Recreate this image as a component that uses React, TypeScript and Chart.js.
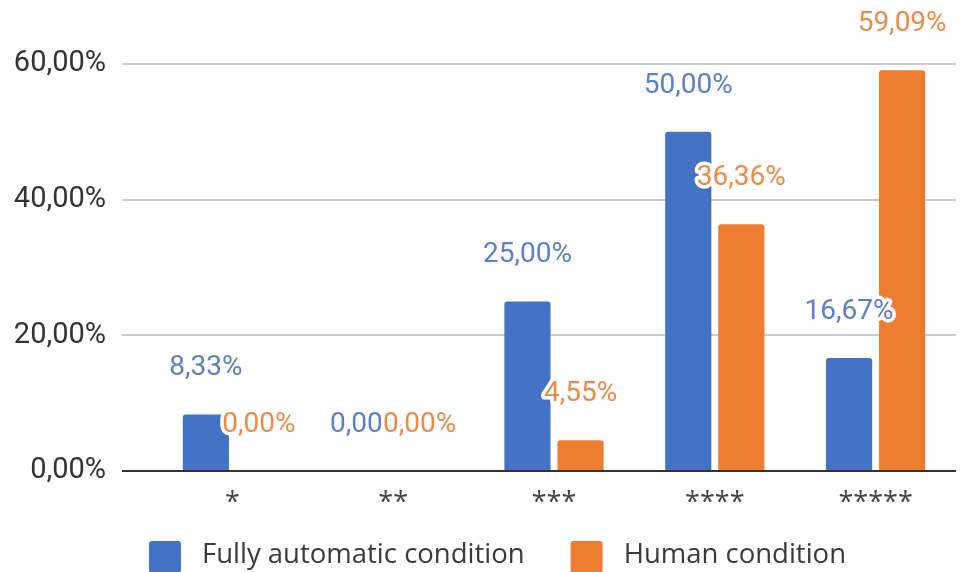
import React, { useEffect, useRef } from "react";
import { Chart, registerables } from "chart.js";

Chart.register(...registerables);

const categories = ["*", "**", "***", "****", "*****"];
const fullyAutomatic = [8.33, 0.0, 25.0, 50.0, 16.67];
const human = [0.0, 0.0, 4.55, 36.36, 59.09];
const seriesNames = ["Fully automatic condition", "Human condition"];
const yTicks = [0, 20, 40, 60];

const BLUE = "#4472C4";
const ORANGE = "#ED7D31";
const BLUE_LABEL = "#5a80cc";
const ORANGE_LABEL = "#ee8a45";

const fmt = (v: number) => v.toFixed(2).replace(".", ",") + "%";

const labelPlugin = {
  id: "valueLabels",
  afterDatasetsDraw(chart: any) {
    const ctx = chart.ctx;
    ctx.save();
    ctx.font = "28px Roboto";
    ctx.textAlign = "center";
    ctx.textBaseline = "middle";
    ctx.lineJoin = "round";
    chart.data.datasets.forEach((ds: any, di: number) => {
      const meta = chart.getDatasetMeta(di);
      meta.data.forEach((el: any, i: number) => {
        const txt = fmt(ds.data[i]);
        const y = el.y - 46;
        ctx.strokeStyle = "#ffffff";
        ctx.lineWidth = 7;
        ctx.strokeText(txt, el.x, y);
        ctx.fillStyle = di === 0 ? BLUE_LABEL : ORANGE_LABEL;
        ctx.fillText(txt, el.x, y);
      });
    });
    ctx.restore();
  },
};

// Bottom legend: boxes + series names, centred under the chart
const legendPlugin = {
  id: "bottomLegend",
  afterDraw(chart: any) {
    const ctx = chart.ctx;
    const box = 32;
    const gap = 21;
    const itemGap = 46;
    ctx.save();
    ctx.font = "27.5px 'Open Sans'";
    ctx.textBaseline = "middle";
    ctx.textAlign = "left";
    const items = chart.data.datasets.map((ds: any) => ({
      text: ds.label,
      color: ds.backgroundColor,
      w: box + gap + ctx.measureText(ds.label).width,
    }));
    const total = items.reduce((a: number, it: any) => a + it.w, 0) + itemGap * (items.length - 1);
    let x = chart.width / 2 + 12 - total / 2;
    const top = chart.chartArea.bottom + 70;
    items.forEach((it: any) => {
      ctx.fillStyle = it.color;
      ctx.beginPath();
      (ctx as any).roundRect(x, top, box, box, 3);
      ctx.fill();
      ctx.fillStyle = "#3a3a3a";
      ctx.fillText(it.text, x + box + gap, top + 14);
      x += it.w + itemGap;
    });
    ctx.restore();
  },
};

export default function App() {
  const ref = useRef<HTMLCanvasElement | null>(null);
  useEffect(() => {
    if (!ref.current) return;
    const chart = new Chart(ref.current, {
      type: "bar",
      data: {
        labels: categories,
        datasets: [
          {
            label: seriesNames[0],
            data: fullyAutomatic,
            backgroundColor: BLUE,
            borderRadius: 3,
            borderSkipped: "start",
            barPercentage: 0.87,
            categoryPercentage: 0.66,
          },
          {
            label: seriesNames[1],
            data: human,
            backgroundColor: ORANGE,
            borderRadius: 3,
            borderSkipped: "start",
            barPercentage: 0.87,
            categoryPercentage: 0.66,
          },
        ],
      },
      options: {
        animation: false,
        responsive: false,
        maintainAspectRatio: false,
        layout: { padding: { left: 0, right: 15, top: 64, bottom: 64 } },
        scales: {
          x: {
            grid: { display: false },
            border: { display: false },
            ticks: { color: "#444", font: { family: "Open Sans", size: 27 }, padding: 8 },
            afterFit: (s: any) => {
              s.height = 37;
            },
          },
          y: {
            min: 0,
            max: 60,
            afterBuildTicks: (s: any) => {
              s.ticks = yTicks.map((v) => ({ value: v }));
            },
            border: { display: false },
            grid: {
              color: (c: any) => (c.tick && c.tick.value === 0 ? "#333333" : "#cccccc"),
              lineWidth: 2,
              tickLength: 30,
            },
            ticks: {
              color: "#333",
              font: { family: "Roboto", size: 29 },
              padding: 16,
              callback: (v: any) => fmt(Number(v)),
            },
            afterFit: (s: any) => {
              s.width = 152;
            },
          },
        },
        plugins: {
          legend: { display: false },
          tooltip: { enabled: false },
        },
      },
      plugins: [labelPlugin, legendPlugin],
    } as any);
    return () => chart.destroy();
  }, []);
  return (
    <div style={{ position: "absolute", left: 0, top: 0, width: 971, height: 572, overflow: "hidden", background: "#fff" }}>
      <canvas ref={ref} width={971} height={572} style={{ display: "block" }} />
    </div>
  );
}
